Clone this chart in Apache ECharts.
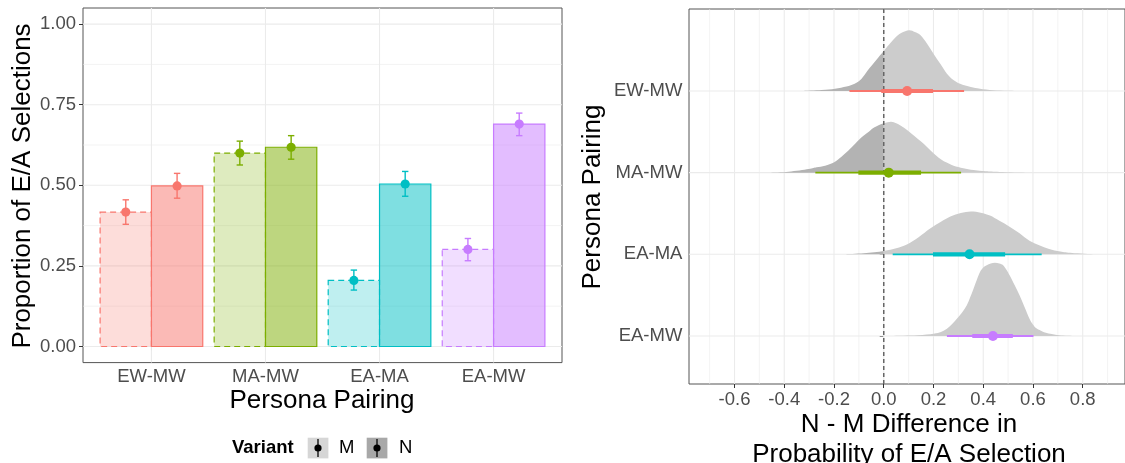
<!DOCTYPE html>
<html>
<head>
<meta charset="utf-8">
<script src="https://cdn.jsdelivr.net/npm/echarts@6/dist/echarts.min.js"></script>
<style>
  html, body { margin: 0; padding: 0; background: #ffffff; }
  #chart { width: 1125px; height: 463px; }
</style>
</head>
<body>
<div id="chart"></div>
<script>
// ---- Left panel: proportion of E/A selections per persona pairing ----
const pairings = ['EW-MW', 'MA-MW', 'EA-MA', 'EA-MW'];
const pairColors = ['#F8766D', '#7CAE00', '#00BFC4', '#C77CFF'];
const variants = ['M', 'N'];
const propM = [0.417, 0.600, 0.205, 0.301];
const propN = [0.498, 0.618, 0.504, 0.690];
const lowM = [0.379, 0.563, 0.175, 0.266];
const highM = [0.455, 0.637, 0.237, 0.335];
const lowN = [0.460, 0.581, 0.466, 0.654];
const highN = [0.537, 0.654, 0.543, 0.724];
const propTicks = [0, 0.25, 0.5, 0.75, 1];
const propTickLabels = ['0.00', '0.25', '0.50', '0.75', '1.00'];
const propMinorTicks = [0.125, 0.375, 0.625, 0.875];

// ---- Right panel: posterior N - M difference per pairing ----
const diffMedian = [0.094, 0.020, 0.345, 0.439];
const diffLow66 = [-0.010, -0.102, 0.198, 0.356];
const diffHigh66 = [0.198, 0.150, 0.488, 0.519];
const diffLow95 = [-0.138, -0.275, 0.036, 0.254];
const diffHigh95 = [0.323, 0.311, 0.635, 0.602];
const diffTicks = [-0.6, -0.4, -0.2, 0, 0.2, 0.4, 0.6, 0.8];
const diffTickLabels = ['-0.6', '-0.4', '-0.2', '0.0', '0.2', '0.4', '0.6', '0.8'];
const diffMinorTicks = [-0.7, -0.5, -0.3, -0.1, 0.1, 0.3, 0.5, 0.7, 0.9];

// Posterior density of the difference (scaled slab heights, in row units)
const densEWMWx = [-0.33, -0.25, -0.196, -0.15, -0.117, -0.09, -0.064, -0.03, 0, 0.042, 0.07, 0.102, 0.125, 0.148, 0.175, 0.2, 0.228, 0.254, 0.28, 0.307, 0.35, 0.387, 0.44, 0.5, 0.56];
const densEWMWh = [0, 0.012, 0.028, 0.055, 0.089, 0.147, 0.253, 0.38, 0.49, 0.64, 0.71, 0.743, 0.722, 0.682, 0.575, 0.457, 0.33, 0.212, 0.135, 0.089, 0.049, 0.028, 0.01, 0.004, 0];
const densMAMWx = [-0.46, -0.382, -0.302, -0.27, -0.236, -0.196, -0.17, -0.143, -0.115, -0.09, -0.06, -0.037, 0, 0.029, 0.05, 0.069, 0.095, 0.122, 0.15, 0.175, 0.2, 0.228, 0.255, 0.281, 0.32, 0.361, 0.41, 0.466, 0.58];
const densMAMWh = [0, 0.012, 0.045, 0.067, 0.086, 0.135, 0.196, 0.269, 0.355, 0.432, 0.502, 0.555, 0.604, 0.624, 0.606, 0.575, 0.52, 0.453, 0.38, 0.31, 0.239, 0.168, 0.12, 0.086, 0.055, 0.033, 0.017, 0.009, 0];
const densEAMAx = [-0.16, -0.08, 0, 0.05, 0.095, 0.14, 0.188, 0.23, 0.268, 0.31, 0.35, 0.39, 0.427, 0.465, 0.506, 0.546, 0.586, 0.625, 0.665, 0.71, 0.758, 0.85];
const densEAMAh = [0, 0.012, 0.04, 0.073, 0.122, 0.208, 0.318, 0.398, 0.462, 0.506, 0.523, 0.508, 0.474, 0.41, 0.339, 0.257, 0.165, 0.11, 0.065, 0.034, 0.016, 0];
const densEAMWx = [0.03, 0.135, 0.2, 0.23, 0.254, 0.275, 0.294, 0.315, 0.334, 0.348, 0.361, 0.374, 0.387, 0.4, 0.414, 0.43, 0.447, 0.465, 0.48, 0.494, 0.506, 0.526, 0.546, 0.566, 0.586, 0.6, 0.612, 0.632, 0.652, 0.705, 0.77];
const densEAMWh = [0, 0.009, 0.028, 0.049, 0.089, 0.147, 0.212, 0.288, 0.376, 0.478, 0.579, 0.686, 0.784, 0.839, 0.866, 0.888, 0.898, 0.888, 0.866, 0.808, 0.743, 0.624, 0.498, 0.355, 0.212, 0.141, 0.098, 0.065, 0.04, 0.009, 0];
const densX = [densEWMWx, densMAMWx, densEAMAx, densEAMWx];
const densH = [densEWMWh, densMAMWh, densEAMAh, densEAMWh];

const FONT = '"Liberation Sans", Arial, Helvetica, sans-serif';
const TICK_TEXT = '#4D4D4D';
const TICK_LINE = '#333333';
const GRID_MAJOR = '#EBEBEB';
const SLAB_NEG = '#B3B3B3';
const SLAB_POS = '#CCCCCC';

function hexAlpha(hex, a) {
  const n = parseInt(hex.slice(1), 16);
  return 'rgba(' + ((n >> 16) & 255) + ',' + ((n >> 8) & 255) + ',' + (n & 255) + ',' + a + ')';
}
function labelFor(ticks, labels) {
  return function (v) {
    const i = ticks.findIndex(t => Math.abs(t - v) < 1e-9);
    return i >= 0 ? labels[i] : '';
  };
}
// row value on the right panel: EW-MW on top
function rowOf(i) { return pairings.length - i; }

// panel grid lines: [orientation (0 vertical, 1 horizontal), value, minor flag]
function gridLineSeries(gridIdx, refX, refY, vMajor, vMinor, hMajor, hMinor) {
  const data = [];
  vMinor.forEach(v => data.push([0, v, 1]));
  hMinor.forEach(v => data.push([1, v, 1]));
  vMajor.forEach(v => data.push([0, v, 0]));
  hMajor.forEach(v => data.push([1, v, 0]));
  return {
    type: 'custom', xAxisIndex: gridIdx, yAxisIndex: gridIdx, z: 1, silent: true,
    data: data,
    renderItem: function (params, api) {
      const cs = params.coordSys;
      const orient = api.value(0), v = api.value(1), minor = api.value(2);
      const style = { stroke: GRID_MAJOR, lineWidth: minor ? 0.6 : 1.1 };
      if (orient === 0) {
        const x = api.coord([v, refY])[0];
        return { type: 'line', shape: { x1: x, y1: cs.y, x2: x, y2: cs.y + cs.height }, style: style };
      }
      const y = api.coord([refX, v])[1];
      return { type: 'line', shape: { x1: cs.x, y1: y, x2: cs.x + cs.width, y2: y }, style: style };
    }
  };
}

// smooth (Catmull-Rom) outline of pixel points pts[from..to], closed down to baseY
function slabPath(pts, from, to, baseY) {
  const f = v => v.toFixed(2);
  let d = 'M' + f(pts[from][0]) + ' ' + f(baseY) + 'L' + f(pts[from][0]) + ' ' + f(pts[from][1]);
  for (let i = from; i < to; i++) {
    const p0 = pts[Math.max(i - 1, 0)], p1 = pts[i], p2 = pts[i + 1], p3 = pts[Math.min(i + 2, pts.length - 1)];
    const c1x = p1[0] + (p2[0] - p0[0]) / 6, c1y = Math.min(baseY, p1[1] + (p2[1] - p0[1]) / 6);
    const c2x = p2[0] - (p3[0] - p1[0]) / 6, c2y = Math.min(baseY, p2[1] - (p3[1] - p1[1]) / 6);
    d += 'C' + f(c1x) + ' ' + f(c1y) + ' ' + f(c2x) + ' ' + f(c2y) + ' ' + f(p2[0]) + ' ' + f(p2[1]);
  }
  d += 'L' + f(pts[to][0]) + ' ' + f(baseY) + 'Z';
  return d;
}

const categoryPos = pairings.map((p, i) => i + 1);
const barData = [];
const errData = [];
pairings.forEach((p, i) => {
  barData.push([i + 1, propM[i], 0]);
  barData.push([i + 1, propN[i], 1]);
  errData.push([i + 1, propM[i], lowM[i], highM[i], 0]);
  errData.push([i + 1, propN[i], lowN[i], highN[i], 1]);
});
const DODGE = 0.45;

const series = [];
series.push(gridLineSeries(0, 1, 0, categoryPos, [], propTicks, propMinorTicks));
series.push(gridLineSeries(1, 0, 1, diffTicks, diffMinorTicks, pairings.map((p, i) => rowOf(i)), []));

// bars
series.push({
  type: 'custom', xAxisIndex: 0, yAxisIndex: 0, z: 3, data: barData,
  renderItem: function (params, api) {
    const cat = api.value(0), v = api.value(1), vi = api.value(2);
    const x0 = cat - DODGE + vi * DODGE;
    const tl = api.coord([x0, v]);
    const br = api.coord([x0 + DODGE, 0]);
    const color = pairColors[cat - 1];
    return {
      type: 'rect',
      shape: { x: tl[0], y: tl[1], width: br[0] - tl[0], height: br[1] - tl[1] },
      style: { fill: hexAlpha(color, vi ? 0.5 : 0.25), stroke: color, lineWidth: 1.2, lineDash: vi ? null : [6, 4] }
    };
  }
});
// error bars with points
series.push({
  type: 'custom', xAxisIndex: 0, yAxisIndex: 0, z: 4, data: errData,
  renderItem: function (params, api) {
    const cat = api.value(0), m = api.value(1), lo = api.value(2), hi = api.value(3), vi = api.value(4);
    const xc = cat - DODGE / 2 + vi * DODGE;
    const pm = api.coord([xc, m]), pl = api.coord([xc, lo]), ph = api.coord([xc, hi]);
    const color = pairColors[cat - 1];
    const st = { stroke: color, lineWidth: 1.4 };
    return {
      type: 'group', children: [
        { type: 'line', shape: { x1: pl[0], y1: pl[1], x2: ph[0], y2: ph[1] }, style: st },
        { type: 'line', shape: { x1: pl[0] - 3.2, y1: pl[1], x2: pl[0] + 3.2, y2: pl[1] }, style: st },
        { type: 'line', shape: { x1: ph[0] - 3.2, y1: ph[1], x2: ph[0] + 3.2, y2: ph[1] }, style: st },
        { type: 'circle', shape: { cx: pm[0], cy: pm[1], r: 4.6 }, style: { fill: color } }
      ]
    };
  }
});

// density slabs, darker where the difference is negative
series.push({
  type: 'custom', xAxisIndex: 1, yAxisIndex: 1, z: 2, silent: true,
  data: pairings.map((p, i) => [0, rowOf(i), i]),
  renderItem: function (params, api) {
    const row = api.value(1), i = api.value(2);
    const xs = densX[i], hs = densH[i];
    const pts = xs.map((x, k) => api.coord([x, row + hs[k]]));
    const baseY = api.coord([0, row])[1];
    const zeroIdx = xs.findIndex(x => x >= 0);
    const children = [];
    if (zeroIdx > 0) {
      children.push({ type: 'path', shape: { pathData: slabPath(pts, 0, zeroIdx, baseY) }, style: { fill: SLAB_NEG } });
      children.push({ type: 'path', shape: { pathData: slabPath(pts, zeroIdx, pts.length - 1, baseY) }, style: { fill: SLAB_POS } });
    } else {
      children.push({ type: 'path', shape: { pathData: slabPath(pts, 0, pts.length - 1, baseY) }, style: { fill: SLAB_POS } });
    }
    return { type: 'group', children: children };
  }
});

// dashed reference line at zero difference
series.push({
  type: 'custom', xAxisIndex: 1, yAxisIndex: 1, z: 4, silent: true, data: [[0, 1]],
  renderItem: function (params, api) {
    const cs = params.coordSys;
    const x = api.coord([api.value(0), api.value(1)])[0];
    return { type: 'line', shape: { x1: x, y1: cs.y, x2: x, y2: cs.y + cs.height },
      style: { stroke: '#666666', lineWidth: 1.5, lineDash: [4, 3] } };
  }
});

// point intervals: median, 66% and 95%
series.push({
  type: 'custom', xAxisIndex: 1, yAxisIndex: 1, z: 5,
  data: pairings.map((p, i) => [diffMedian[i], rowOf(i), diffLow66[i], diffHigh66[i], diffLow95[i], diffHigh95[i], i]),
  renderItem: function (params, api) {
    const row = api.value(1);
    const color = pairColors[api.value(6)];
    const pm = api.coord([api.value(0), row]);
    const a66 = api.coord([api.value(2), row]), b66 = api.coord([api.value(3), row]);
    const a95 = api.coord([api.value(4), row]), b95 = api.coord([api.value(5), row]);
    return {
      type: 'group', children: [
        { type: 'line', shape: { x1: a95[0], y1: a95[1], x2: b95[0], y2: b95[1] }, style: { stroke: color, lineWidth: 1.8 } },
        { type: 'line', shape: { x1: a66[0], y1: a66[1], x2: b66[0], y2: b66[1] }, style: { stroke: color, lineWidth: 4.2 } },
        { type: 'circle', shape: { cx: pm[0], cy: pm[1], r: 5 }, style: { fill: color } }
      ]
    };
  }
});

function axisCommon(ticks, labels, margin) {
  return {
    axisLine: { show: false },
    splitLine: { show: false },
    axisTick: { show: true, customValues: ticks, length: 4, lineStyle: { color: TICK_LINE, width: 1 } },
    axisLabel: { customValues: ticks, formatter: labelFor(ticks, labels), fontSize: 18.5, color: TICK_TEXT, fontFamily: FONT, margin: margin }
  };
}

const option = {
  animation: false,
  backgroundColor: '#ffffff',
  grid: [
    { left: 83, top: 8, width: 479, height: 354.6, show: true, borderColor: '#555555', borderWidth: 1, backgroundColor: 'transparent' },
    { left: 689, top: 9, width: 441, height: 375, show: true, borderColor: '#555555', borderWidth: 1, backgroundColor: 'transparent' }
  ],
  xAxis: [
    Object.assign({ type: 'value', gridIndex: 0, min: 0.4, max: 4.6 }, axisCommon(categoryPos, pairings, 5)),
    Object.assign({ type: 'value', gridIndex: 1, min: -0.783, max: 0.97 }, axisCommon(diffTicks, diffTickLabels, 6.5))
  ],
  yAxis: [
    Object.assign({ type: 'value', gridIndex: 0, min: -0.05, max: 1.05 }, axisCommon(propTicks, propTickLabels, 7)),
    Object.assign({ type: 'value', gridIndex: 1, min: 0.412, max: 5.004 },
      axisCommon(pairings.map((p, i) => rowOf(i)), pairings, 6.6))
  ],
  series: series,
  graphic: [
    { type: 'text', x: 23, y: 186, rotation: Math.PI / 2,
      style: { text: 'Proportion of E/A Selections', font: '26px ' + FONT, fill: '#000', align: 'center', verticalAlign: 'middle' } },
    { type: 'text', x: 322, y: 401,
      style: { text: 'Persona Pairing', font: '26px ' + FONT, fill: '#000', align: 'center', verticalAlign: 'middle' } },
    { type: 'text', x: 593, y: 197, rotation: Math.PI / 2,
      style: { text: 'Persona Pairing', font: '26px ' + FONT, fill: '#000', align: 'center', verticalAlign: 'middle' } },
    { type: 'text', x: 909, y: 425,
      style: { text: 'N - M Difference in', font: '26px ' + FONT, fill: '#000', align: 'center', verticalAlign: 'middle' } },
    { type: 'text', x: 909, y: 455,
      style: { text: 'Probability of E/A Selection', font: '26px ' + FONT, fill: '#000', align: 'center', verticalAlign: 'middle' } },
    // legend
    { type: 'text', x: 232, y: 448,
      style: { text: 'Variant', font: 'bold 18.5px ' + FONT, fill: '#000', align: 'left', verticalAlign: 'middle' } },
    { type: 'rect', shape: { x: 307.7, y: 437.7, width: 20.7, height: 20.7 }, style: { fill: '#D6D6D6' } },
    { type: 'line', shape: { x1: 318, y1: 439, x2: 318, y2: 457 }, style: { stroke: '#000', lineWidth: 1.3 } },
    { type: 'circle', shape: { cx: 318, cy: 448, r: 3.6 }, style: { fill: '#000' } },
    { type: 'text', x: 339, y: 448,
      style: { text: variants[0], font: '18.5px ' + FONT, fill: '#000', align: 'left', verticalAlign: 'middle' } },
    { type: 'rect', shape: { x: 366.7, y: 437.7, width: 20.7, height: 20.7 }, style: { fill: '#A8A8A8' } },
    { type: 'line', shape: { x1: 377, y1: 439, x2: 377, y2: 457 }, style: { stroke: '#000', lineWidth: 1.3 } },
    { type: 'circle', shape: { cx: 377, cy: 448, r: 3.6 }, style: { fill: '#000' } },
    { type: 'text', x: 399, y: 448,
      style: { text: variants[1], font: '18.5px ' + FONT, fill: '#000', align: 'left', verticalAlign: 'middle' } }
  ]
};

const chart = echarts.init(document.getElementById('chart'), null, { renderer: 'canvas' });
chart.setOption(option);
</script>
</body>
</html>
